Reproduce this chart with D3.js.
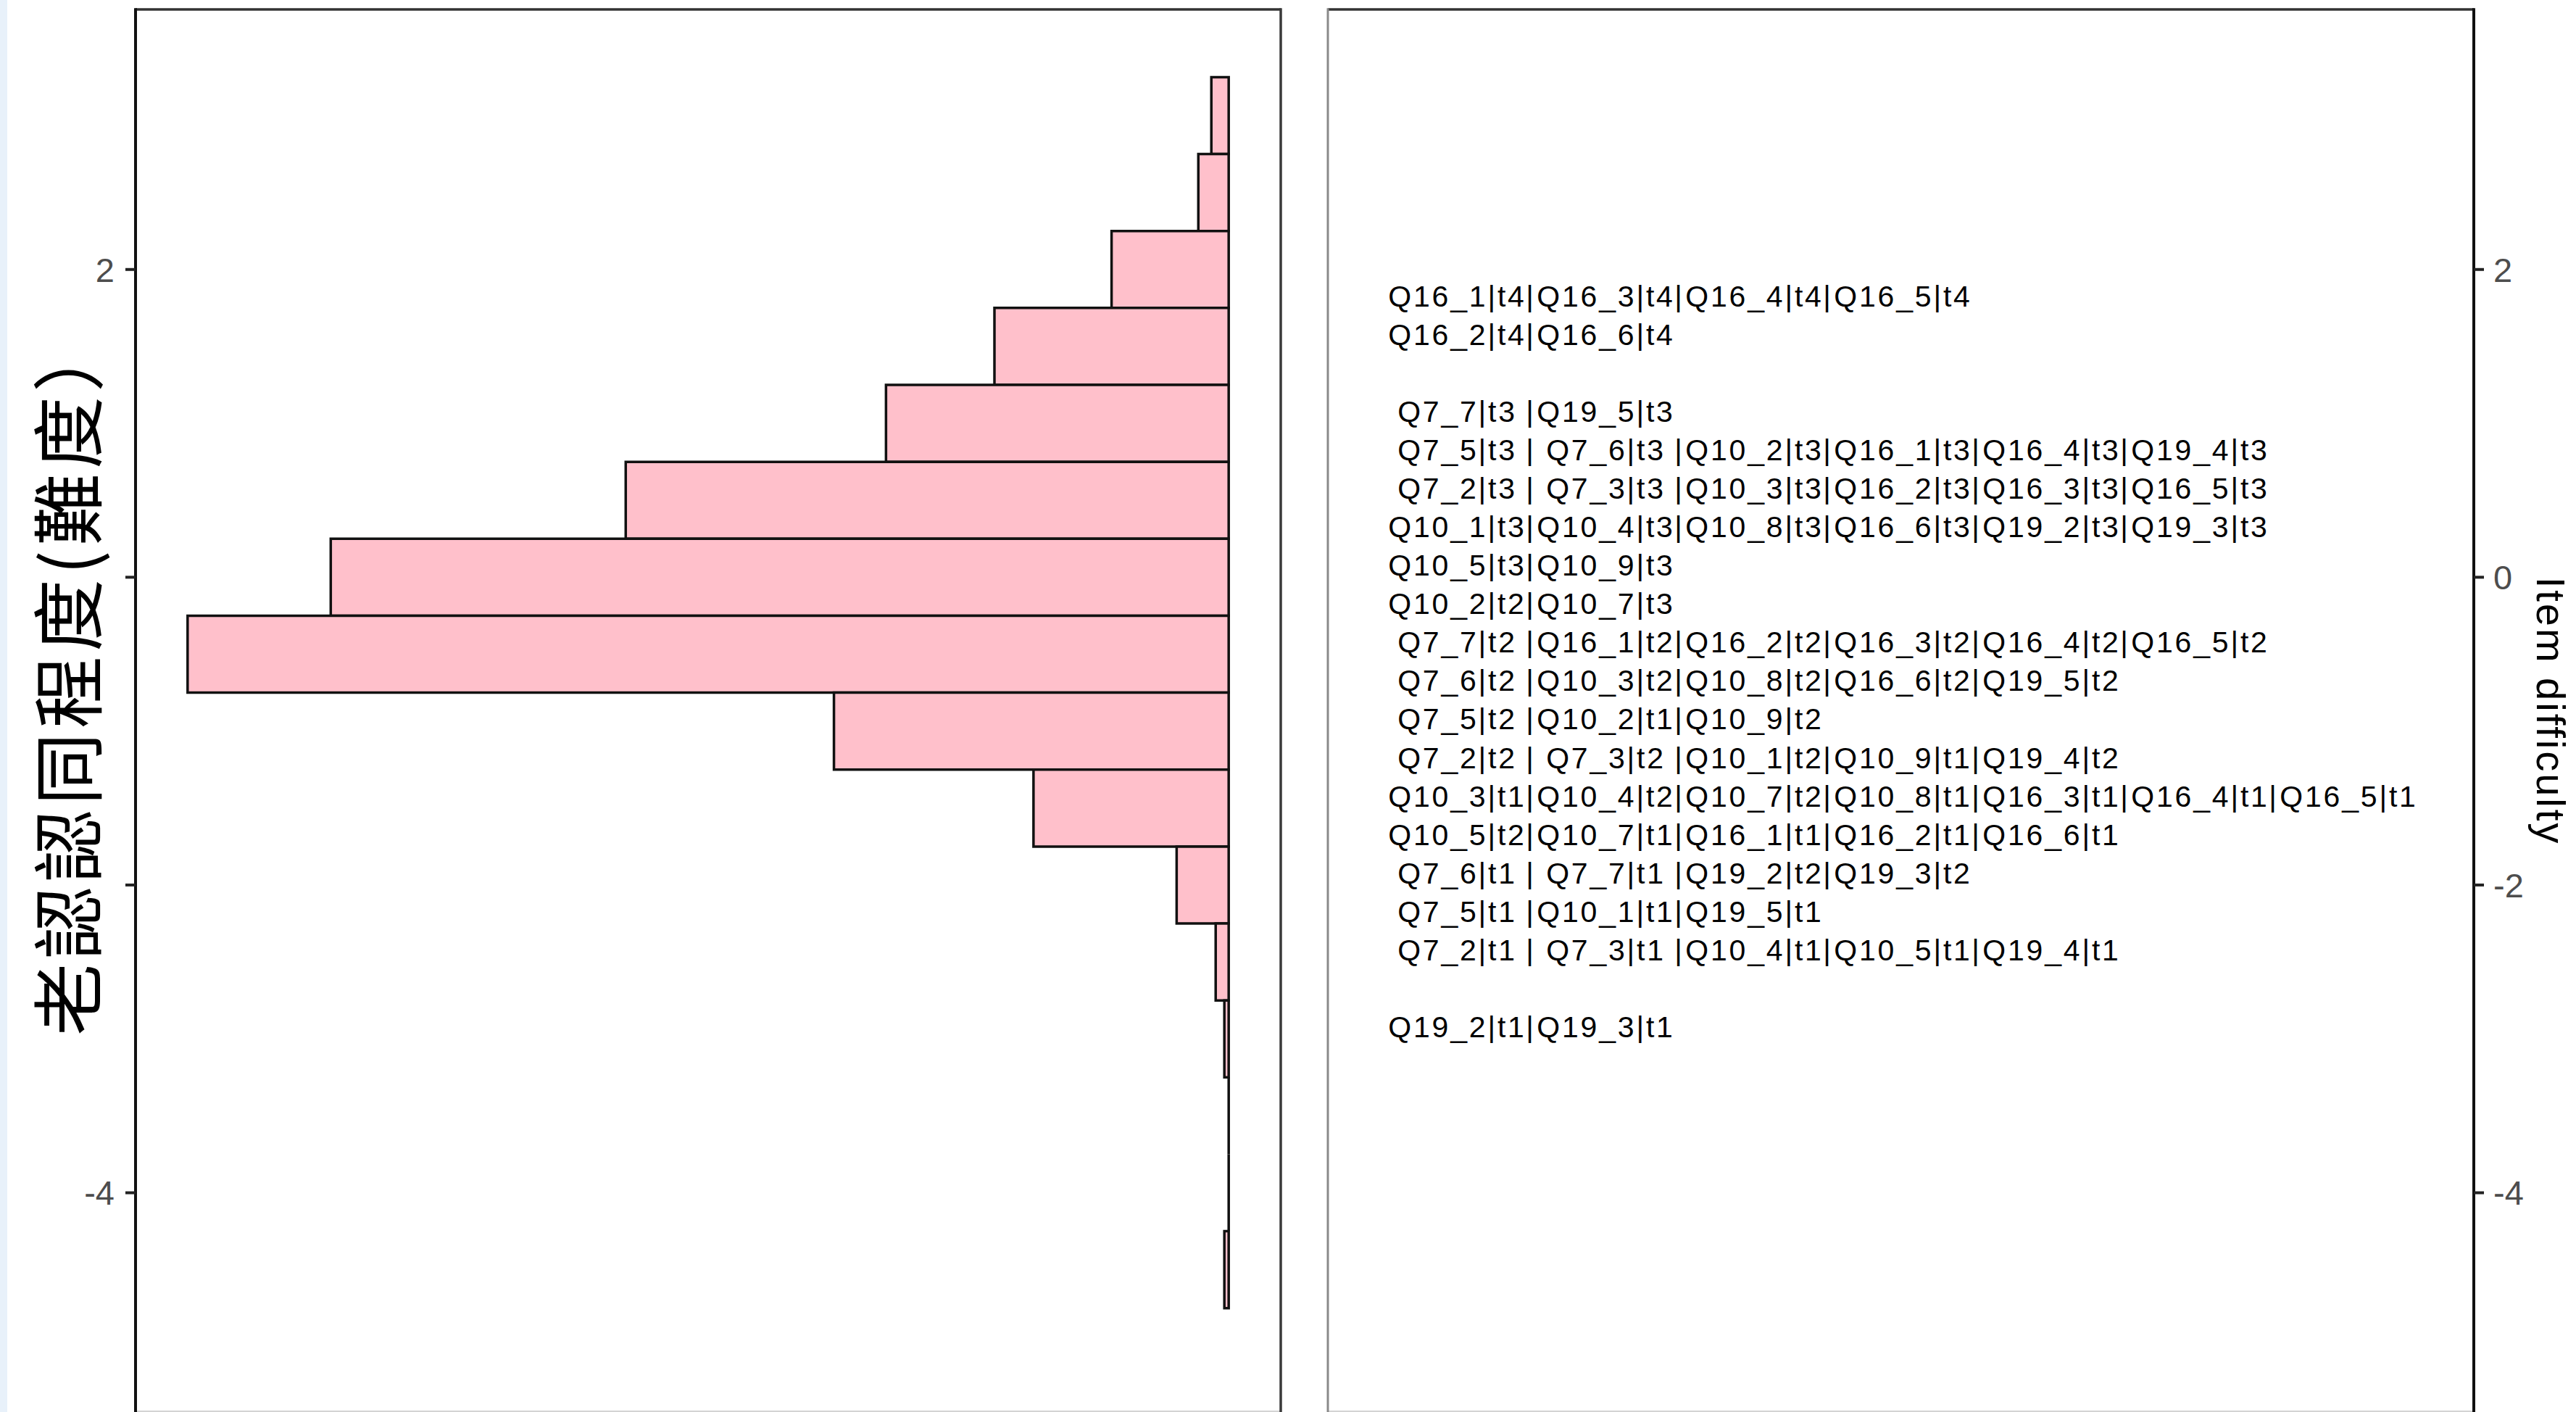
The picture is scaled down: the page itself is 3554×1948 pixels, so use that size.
<!DOCTYPE html>
<html>
<head>
<meta charset="utf-8">
<script src="https://cdn.jsdelivr.net/npm/d3@7"></script>
<style>
  body { margin: 0; background: #fff; }
  svg { display: block; }
</style>
</head>
<body>
<div id="chart"></div>
<script>
// histogram of person measures (bin centre, count)
var binCenters = [3.0, 2.5, 2.0, 1.5, 1.0, 0.5, 0.0, -0.5, -1.0, -1.5, -2.0, -2.5, -3.0, -3.5, -4.0, -4.5];
var binCounts = [4, 7, 27, 54, 79, 139, 207, 240, 91, 45, 12, 3, 1, 0, 0, 1];
var binWidth = 0.5;

var yTicks = [2, 0, -2, -4];

// item threshold labels, one row per difficulty level
var itemRowValues = [1.83, 1.58, 1.08, 0.83, 0.58, 0.33, 0.08, -0.17, -0.42, -0.67, -0.92, -1.17, -1.42, -1.67, -1.92, -2.17, -2.42, -2.92];
var itemRows = [
    ["Q16_1|t4", "Q16_3|t4", "Q16_4|t4", "Q16_5|t4"],
    ["Q16_2|t4", "Q16_6|t4"],
    ["Q7_7|t3", "Q19_5|t3"],
    ["Q7_5|t3", "Q7_6|t3", "Q10_2|t3", "Q16_1|t3", "Q16_4|t3", "Q19_4|t3"],
    ["Q7_2|t3", "Q7_3|t3", "Q10_3|t3", "Q16_2|t3", "Q16_3|t3", "Q16_5|t3"],
    ["Q10_1|t3", "Q10_4|t3", "Q10_8|t3", "Q16_6|t3", "Q19_2|t3", "Q19_3|t3"],
    ["Q10_5|t3", "Q10_9|t3"],
    ["Q10_2|t2", "Q10_7|t3"],
    ["Q7_7|t2", "Q16_1|t2", "Q16_2|t2", "Q16_3|t2", "Q16_4|t2", "Q16_5|t2"],
    ["Q7_6|t2", "Q10_3|t2", "Q10_8|t2", "Q16_6|t2", "Q19_5|t2"],
    ["Q7_5|t2", "Q10_2|t1", "Q10_9|t2"],
    ["Q7_2|t2", "Q7_3|t2", "Q10_1|t2", "Q10_9|t1", "Q19_4|t2"],
    ["Q10_3|t1", "Q10_4|t2", "Q10_7|t2", "Q10_8|t1", "Q16_3|t1", "Q16_4|t1", "Q16_5|t1"],
    ["Q10_5|t2", "Q10_7|t1", "Q16_1|t1", "Q16_2|t1", "Q16_6|t1"],
    ["Q7_6|t1", "Q7_7|t1", "Q19_2|t2", "Q19_3|t2"],
    ["Q7_5|t1", "Q10_1|t1", "Q19_5|t1"],
    ["Q7_2|t1", "Q7_3|t1", "Q10_4|t1", "Q10_5|t1", "Q19_4|t1"],
    ["Q19_2|t1", "Q19_3|t1"]
];

var leftTitle = "老認認同程度(難度）";
var rightTitle = "Item difficulty";

var W = 3554, H = 1948;
var svg = d3.select("#chart").append("svg")
    .attr("width", W)
    .attr("height", H);

svg.append("rect").attr("width", W).attr("height", H).attr("fill", "#fff");
svg.append("rect").attr("width", 10).attr("height", H).attr("fill", "#E8F1FA");

var plotTop = 13, plotBottom = 1947;
var leftPanel = {x0: 187, x1: 1767};
var rightPanel = {x0: 1832, x1: 3413};

var yScale = d3.scaleLinear().domain([3.69, -5.42]).range([plotTop, plotBottom]);

var maxCount = d3.max(binCounts);
var xScale = d3.scaleLinear()
    .domain([-0.05 * maxCount, 1.05 * maxCount])
    .range([leftPanel.x1, leftPanel.x0]);

// ---- left panel: histogram ----
var bars = binCenters.map(function(c, i) { return {c: c, n: binCounts[i]}; });
svg.append("g").selectAll("path")
    .data(bars)
    .enter()
    .append("path")
    .attr("d", function(d) {
        var x0 = xScale(0), x1 = xScale(d.n);
        var y0 = yScale(d.c + binWidth / 2), y1 = yScale(d.c - binWidth / 2);
        return "M" + x0 + "," + y0 + "H" + x1 + "V" + y1 + "H" + x0 + "Z";
    })
    .attr("fill", "pink")
    .attr("stroke", "#111")
    .attr("stroke-width", 3.5)
    .attr("stroke-linejoin", "miter");

// panel frames
function frame(p, leftColor, leftW, rightColor, rightW) {
    svg.append("line").attr("x1", p.x0).attr("x2", p.x1).attr("y1", plotTop).attr("y2", plotTop)
        .attr("stroke", "#333").attr("stroke-width", 3.5);
    svg.append("line").attr("x1", p.x0).attr("x2", p.x1).attr("y1", plotBottom).attr("y2", plotBottom)
        .attr("stroke", "#c4c4c4").attr("stroke-width", 1.5);
    svg.append("line").attr("x1", p.x0).attr("x2", p.x0).attr("y1", plotTop - 1.75).attr("y2", H)
        .attr("stroke", leftColor).attr("stroke-width", leftW);
    svg.append("line").attr("x1", p.x1).attr("x2", p.x1).attr("y1", plotTop - 1.75).attr("y2", H)
        .attr("stroke", rightColor).attr("stroke-width", rightW);
}
frame(leftPanel, "#111", 4, "#3a3a3a", 3.5);
frame(rightPanel, "#8a8a8a", 3, "#111", 4);

// ticks and tick labels
var tickFont = "'Liberation Sans', Arial, sans-serif";
yTicks.forEach(function(t) {
    var y = yScale(t);
    svg.append("line").attr("x1", leftPanel.x0 - 14).attr("x2", leftPanel.x0)
        .attr("y1", y).attr("y2", y).attr("stroke", "#222").attr("stroke-width", 4);
    svg.append("text").attr("x", 158).attr("y", y)
        .attr("dy", "0.36em")
        .attr("text-anchor", "end")
        .style("font-family", tickFont).style("font-size", "47px").style("fill", "#4D4D4D")
        .text(t);
    svg.append("line").attr("x1", rightPanel.x1).attr("x2", rightPanel.x1 + 14)
        .attr("y1", y).attr("y2", y).attr("stroke", "#222").attr("stroke-width", 4);
    svg.append("text").attr("x", 3440).attr("y", y)
        .attr("dy", "0.36em")
        .attr("text-anchor", "start")
        .style("font-family", tickFont).style("font-size", "47px").style("fill", "#4D4D4D")
        .text(t);
});

// left title sits on a white box that hides the middle tick labels
svg.append("rect")
    .attr("x", 12).attr("y", 440)
    .attr("width", 158).attr("height", 1000)
    .attr("fill", "#fff");
svg.append("text")
    .attr("transform", "translate(88,932) rotate(-90)")
    .attr("text-anchor", "middle")
    .attr("dominant-baseline", "central")
    .style("font-family", "'Noto Sans CJK TC', 'Noto Sans CJK SC', sans-serif")
    .style("font-size", "100px")
    .style("letter-spacing", "6px")
    .style("fill", "#000")
    .text(leftTitle);

svg.append("text")
    .attr("transform", "translate(3500,981) rotate(90)")
    .attr("text-anchor", "middle")
    .style("font-family", tickFont)
    .style("font-size", "56px")
    .style("letter-spacing", "3px")
    .style("fill", "#000")
    .text(rightTitle);

// ---- right panel: item labels ----
var nCols = d3.max(itemRows, function(r) { return r.length; });
var colScale = d3.scalePoint()
    .domain(d3.range(nCols))
    .range([rightPanel.x0 + 177, rightPanel.x0 + 177 + 205 * (nCols - 1)]);
var colStep = colScale.step();

var itemG = svg.append("g")
    .style("font-family", tickFont)
    .style("font-size", "41px")
    .style("letter-spacing", "2.8px")
    .style("fill", "#000");

itemRows.forEach(function(row, r) {
    var y = yScale(itemRowValues[r]);
    row.forEach(function(label, k) {
        itemG.append("text")
            .attr("x", colScale(k) + 1.5)
            .attr("y", y)
            .attr("dy", "0.36em")
            .attr("text-anchor", "middle")
            .text(label);
        if (k < row.length - 1) {
            itemG.append("text")
                .attr("x", colScale(k) + colStep / 2 - 1)
                .attr("y", y)
                .attr("dy", "0.36em")
                .attr("text-anchor", "middle")
                .style("letter-spacing", "0px")
                .text("|");
        }
    });
});
</script>
</body>
</html>
